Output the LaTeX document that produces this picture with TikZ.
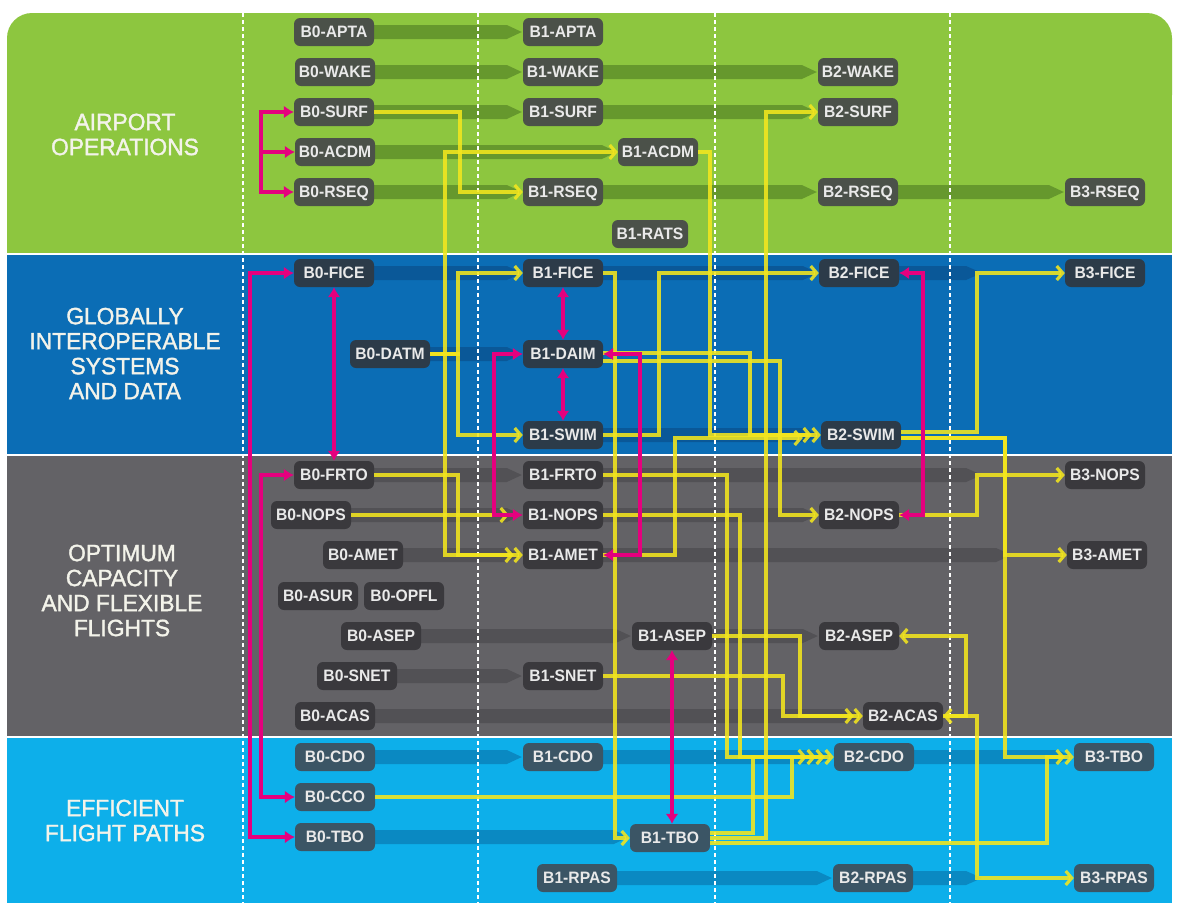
\documentclass[tikz,border=0pt]{standalone}
\usepackage{fontspec}
\setmainfont{Liberation Sans}
\newfontfamily\nf{Liberation Sans}[FakeStretch=0.95]
\newfontfamily\tf{Liberation Sans}[FakeBold=1.5,FakeStretch=0.97]
\usetikzlibrary{arrows.meta,calc}
\definecolor{bandA}{HTML}{8DC63F}
\definecolor{bandB}{HTML}{0B6DB5}
\definecolor{bandC}{HTML}{636266}
\definecolor{bandD}{HTML}{0DAFEA}
\definecolor{trkA}{HTML}{66982D}
\definecolor{trkB}{HTML}{0A5898}
\definecolor{trkC}{HTML}{525155}
\definecolor{trkD}{HTML}{0A89C2}
\definecolor{boxA}{HTML}{4B5149}
\definecolor{boxB}{HTML}{2C3B49}
\definecolor{boxC}{HTML}{3A393D}
\definecolor{boxD}{HTML}{3B5565}
\definecolor{yel}{HTML}{F3E61E}
\definecolor{mag}{HTML}{E5007E}
\definecolor{txt}{HTML}{E9E9E9}
\definecolor{ttltxt}{HTML}{F3F3EA}
\pgfdeclarelayer{bg}
\pgfdeclarelayer{trk}
\pgfdeclarelayer{dsh}
\pgfsetlayers{bg,trk,dsh,main}
\tikzset{
  yt/.tip={Straight Barb[length=6pt,width=14pt]},
  mt/.tip={Latex[length=10pt,width=13pt]},
  box/.style={rounded corners=6pt, minimum width=80pt, minimum height=28pt,
    inner xsep=3pt, inner ysep=0pt, text=txt,
    font=\nf\bfseries\fontsize{16.5}{16.5}\selectfont, text height=11.8pt, text depth=0pt},
  bxa/.style={box, fill=boxA},
  bxb/.style={box, fill=boxB},
  bxc/.style={box, fill=boxC},
  bxd/.style={box, fill=boxD},
  ttl/.style={text=ttltxt, align=center, font=\tf\fontsize{23.5}{25}\selectfont},
  yl/.style={draw=yel, line width=3.2pt, draw opacity=0.88},
  mg/.style={draw=mag, line width=3.5pt},
  vdash/.style={draw=white, line width=1.2pt, dash pattern=on 4pt off 3pt},
}
\newcommand\trk[3]{%
  \begin{pgfonlayer}{trk}
  \fill[#3] let \p1=(#1.east), \p2=(#2.west) in
    (\x1-2pt,\y1+7pt) -- (\x2-16pt,\y1+7pt) -- (\x2-1pt,\y1) --
    (\x2-16pt,\y1-7pt) -- (\x1-2pt,\y1-7pt) -- cycle;
  \end{pgfonlayer}}
\newcommand\trkx[3]{%
  \begin{pgfonlayer}{trk}
  \fill[#3] let \p1=(#1.east) in
    (\x1-2pt,\y1+7pt) -- (#2pt-16pt,\y1+7pt) -- (#2pt,\y1) --
    (#2pt-16pt,\y1-7pt) -- (\x1-2pt,\y1-7pt) -- cycle;
  \end{pgfonlayer}}
\begin{document}
\begin{tikzpicture}[x=1pt,y=-1pt]
\useasboundingbox (0,0) rectangle (1177,903);
\begin{pgfonlayer}{bg}
\fill[white] (0,0) rectangle (1177,903);
\fill[bandA, rounded corners=25pt] (7,13) rectangle (1172,120);
\fill[bandA] (7,60) rectangle (1172,254);
\fill[bandB] (7,254) rectangle (1172,455);
\fill[bandC] (7,455) rectangle (1172,737);
\fill[bandD] (7,737) rectangle (1172,903);
\draw[white, line width=1.5pt] (7,254) -- (1172,254);
\draw[white, line width=1.5pt] (7,455) -- (1172,455);
\draw[white, line width=1.5pt] (7,737) -- (1172,737);
\end{pgfonlayer}
\begin{pgfonlayer}{dsh}
\foreach \xx in {243,478,715,950} \draw[vdash] (\xx,13) -- (\xx,903);
\end{pgfonlayer}

% titles
\node[ttl] (tA) at (125,134.5) {AIRPORT\\OPERATIONS};
\node[ttl] (tB) at (125,353.5) {GLOBALLY\\INTEROPERABLE\\SYSTEMS\\AND DATA};
\node[ttl] (tC) at (122,590.5) {OPTIMUM\\CAPACITY\\AND FLEXIBLE\\FLIGHTS};
\node[ttl] (tD) at (125,820.5) {EFFICIENT\\FLIGHT PATHS};

% airport operations
\node[bxa] (b0apta) at (334,32) {B0-APTA};
\node[bxa] (b0wake) at (335,72) {B0-WAKE};
\node[bxa] (b0surf) at (334,112) {B0-SURF};
\node[bxa] (b0acdm) at (335,152) {B0-ACDM};
\node[bxa] (b0rseq) at (334,192) {B0-RSEQ};
\node[bxa] (b1apta) at (563,32) {B1-APTA};
\node[bxa] (b1wake) at (563,72) {B1-WAKE};
\node[bxa] (b1surf) at (563,112) {B1-SURF};
\node[bxa] (b1acdm) at (658,152) {B1-ACDM};
\node[bxa] (b1rseq) at (563,192) {B1-RSEQ};
\node[bxa, minimum width=76pt] (b1rats) at (650,234) {B1-RATS};
\node[bxa] (b2wake) at (858,72) {B2-WAKE};
\node[bxa] (b2surf) at (858,112) {B2-SURF};
\node[bxa] (b2rseq) at (858,192) {B2-RSEQ};
\node[bxa] (b3rseq) at (1105,192) {B3-RSEQ};

% globally interoperable
\node[bxb] (b0fice) at (334,273) {B0-FICE};
\node[bxb] (b0datm) at (390,354) {B0-DATM};
\node[bxb] (b1fice) at (563,273) {B1-FICE};
\node[bxb] (b1daim) at (563,354) {B1-DAIM};
\node[bxb] (b1swim) at (563,435) {B1-SWIM};
\node[bxb] (b2fice) at (859,273) {B2-FICE};
\node[bxb] (b2swim) at (861,435) {B2-SWIM};
\node[bxb] (b3fice) at (1105,273) {B3-FICE};

% optimum capacity
\node[bxc] (b0frto) at (334,475) {B0-FRTO};
\node[bxc] (b0nops) at (311,515) {B0-NOPS};
\node[bxc] (b0amet) at (363,555) {B0-AMET};
\node[bxc] (b0asur) at (318,596) {B0-ASUR};
\node[bxc] (b0opfl) at (404,596) {B0-OPFL};
\node[bxc] (b0asep) at (381,636) {B0-ASEP};
\node[bxc] (b0snet) at (357,676) {B0-SNET};
\node[bxc] (b0acas) at (335,716) {B0-ACAS};
\node[bxc] (b1frto) at (563,475) {B1-FRTO};
\node[bxc] (b1nops) at (563,515) {B1-NOPS};
\node[bxc] (b1amet) at (563,555) {B1-AMET};
\node[bxc] (b1asep) at (672,636) {B1-ASEP};
\node[bxc] (b1snet) at (563,676) {B1-SNET};
\node[bxc] (b2nops) at (859,515) {B2-NOPS};
\node[bxc] (b2asep) at (859,636) {B2-ASEP};
\node[bxc] (b2acas) at (903,716) {B2-ACAS};
\node[bxc] (b3nops) at (1105,475) {B3-NOPS};
\node[bxc] (b3amet) at (1107,555) {B3-AMET};

% efficient flight paths
\node[bxd] (b0cdo) at (335,757) {B0-CDO};
\node[bxd] (b0cco) at (335,797) {B0-CCO};
\node[bxd] (b0tbo) at (335,837) {B0-TBO};
\node[bxd] (b1cdo) at (563,757) {B1-CDO};
\node[bxd] (b1tbo) at (670,838) {B1-TBO};
\node[bxd] (b1rpas) at (577,878) {B1-RPAS};
\node[bxd] (b2cdo) at (874,757) {B2-CDO};
\node[bxd] (b2rpas) at (873,878) {B2-RPAS};
\node[bxd] (b3tbo) at (1114,757) {B3-TBO};
\node[bxd] (b3rpas) at (1114,878) {B3-RPAS};

% tracks
\trk{b0apta}{b1apta}{trkA}
\trk{b0wake}{b1wake}{trkA}
\trk{b1wake}{b2wake}{trkA}
\trk{b0surf}{b1surf}{trkA}
\trk{b1surf}{b2surf}{trkA}
\trk{b0acdm}{b1acdm}{trkA}
\trk{b0rseq}{b1rseq}{trkA}
\trk{b1rseq}{b2rseq}{trkA}
\trk{b2rseq}{b3rseq}{trkA}
\trk{b0fice}{b1fice}{trkB}
\trk{b1fice}{b2fice}{trkB}
\trkx{b2fice}{982}{trkB}
\trk{b0datm}{b1daim}{trkB}
\trk{b1swim}{b2swim}{trkB}
\trk{b0frto}{b1frto}{trkC}
\trkx{b1frto}{982}{trkC}
\trk{b0nops}{b1nops}{trkC}
\trk{b1nops}{b2nops}{trkC}
\trk{b0amet}{b1amet}{trkC}
\trkx{b1amet}{1012}{trkC}
\trk{b0asep}{b1asep}{trkC}
\trk{b1asep}{b2asep}{trkC}
\trk{b0snet}{b1snet}{trkC}
\trk{b0acas}{b2acas}{trkC}
\trk{b0cdo}{b1cdo}{trkD}
\trk{b1cdo}{b2cdo}{trkD}
\trk{b2cdo}{b3tbo}{trkD}
\trk{b0tbo}{b1tbo}{trkD}
\trk{b1rpas}{b2rpas}{trkD}
\trkx{b2rpas}{982}{trkD}

% yellow connectors
\draw[yl,-yt] (b0surf.east) -| (460,192) -- (b1rseq.west);
\draw[yl,yt-yt] (b1acdm.west) -| (445,555) -- (b1amet.west);
\draw[yl,-yt] (b0frto.east) -| (458,555) -- ([xshift=-9pt]b1amet.west);
\draw[yl,-yt] (b0nops.east) -- ([xshift=-14pt]b1nops.west);
\draw[yl,-yt] (b0datm.east) -| (458,273) -- (b1fice.west);
\draw[yl,-yt] (b0datm.east) -| (458,435) -- (b1swim.west);
\draw[yl,-yt] (b1acdm.east) -| (710,435) -- (b2swim.west);
\draw[yl,-yt] ([yshift=1pt]b1daim.east) -| (750,435) -- ([xshift=-9pt]b2swim.west);
\draw[yl,-yt] ([yshift=-7pt]b1daim.east) -| (780,515) -- (b2nops.west);
\draw[yl,-yt] (b1swim.east) -| (659,273) -- (b2fice.west);
\draw[yl,-yt] (b1amet.east) -| (675,438) -- ([xshift=-18pt,yshift=-3pt]b2swim.west);
\draw[yl,-yt] (b1fice.east) -| (615,838) -- (b1tbo.west);
\draw[yl,-yt] (b1tbo.east) -| (766,112) -- (b2surf.west);
\draw[yl,-yt] ([yshift=5pt]b1tbo.east) -| (753,757) -- ([xshift=-18pt]b2cdo.west);
\draw[yl,-yt] ([yshift=-5pt]b1tbo.east) -| (1047,757) -- (b3tbo.west);
\draw[yl,-yt] (b1frto.east) -| (727,757) -- ([xshift=-27pt]b2cdo.west);
\draw[yl,-yt] (b1nops.east) -| (740,757) -- ([xshift=-9pt]b2cdo.west);
\draw[yl,-yt] (b0cco.east) -| (792,757) -- (b2cdo.west);
\draw[yl,-yt] (b1asep.east) -| (800,716) -- (b2acas.west);
\draw[yl,-yt] (b1snet.east) -| (783,716) -- ([xshift=-9pt]b2acas.west);
\draw[yl,yt-yt] (b2asep.east) -| (966,716) -- (b2acas.east);
\draw[yl,-yt] (b2acas.east) -| (977,878) -- (b3rpas.west);
\draw[yl,-yt] ([yshift=3pt]b2swim.east) -| (977,273) -- (b3fice.west);
\draw[yl,-yt] ([yshift=-3pt]b2swim.east) -| (1005,757) -- ([xshift=-9pt]b3tbo.west);
\draw[yl,-yt] ([yshift=-3pt]b2swim.east) -| (1005,555) -- (b3amet.west);
\draw[yl,-yt] (b2nops.east) -| (977,475) -- (b3nops.west);

% magenta connectors
\coordinate (mj) at (261,152);
\draw[mg,mt-mt] (b0surf.west) -| (261,192) -- (b0rseq.west);
\draw[mg,-mt] (mj) -- (b0acdm.west);
\draw[mg,mt-mt] (b0fice.west) -| (250,837) -- (b0tbo.west);
\draw[mg,mt-mt] (b0frto.west) -| (261,797) -- (b0cco.west);
\draw[mg,mt-mt] (b0fice.south) -- (b0frto.north);
\draw[mg,mt-mt] (b1fice.south) -- (b1daim.north);
\draw[mg,mt-mt] (b1daim.south) -- (b1swim.north);
\draw[mg,mt-mt] (b1daim.west) -| (494,515) -- (b1nops.west);
\draw[mg,mt-mt] (b1daim.east) -| (640,555) -- (b1amet.east);
\draw[mg,mt-mt] (b2fice.east) -| (923,515) -- (b2nops.east);
\draw[mg,mt-mt] (b1asep.south) -- (b1asep.south |- b1tbo.north);
\end{tikzpicture}
\end{document}
